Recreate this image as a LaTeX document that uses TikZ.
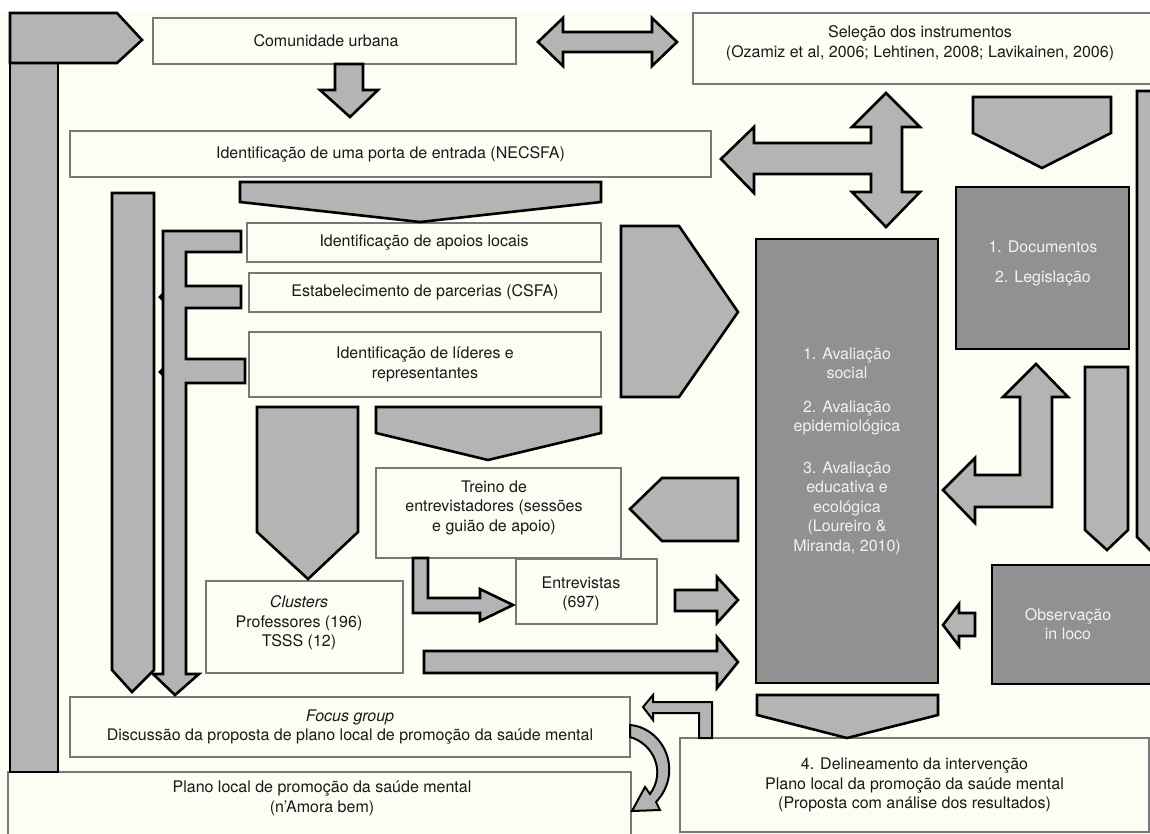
\documentclass[tikz,border=0pt]{standalone}
\usepackage{fontspec}
\setmainfont{TeX Gyre Heros}
\definecolor{cream}{RGB}{253,253,244}
\definecolor{arrgray}{RGB}{180,180,180}
\definecolor{darkbox}{RGB}{145,145,145}
\definecolor{boxline}{RGB}{120,120,120}
\definecolor{textc}{RGB}{25,25,25}
\definecolor{lighttext}{RGB}{242,242,242}
\tikzset{
  arr/.style={fill=arrgray, draw=black, line width=2.6pt, line join=miter},
  thinarr/.style={arr, line width=2pt},
  dbox/.style={fill=darkbox, draw=black, line width=2.6pt, inner sep=0pt},
  wbox/.style={draw=boxline, line width=1.1pt, fill=cream, inner sep=0pt},
  txt/.style={align=center, font=\fontsize{16}{19.5}\selectfont, text=textc, inner sep=0pt},
  wtxt/.style={txt, text=lighttext},
}
\begin{document}
\begin{tikzpicture}[x=1pt,y=-1pt]
\useasboundingbox (0,0) rectangle (1150,834);
\clip (0,0) rectangle (1150,834);
\fill[white] (0,0) rectangle (1150,834);
\fill[cream] (0,12) rectangle (1150,834);

% white boxes
\node[wbox, minimum width=363pt, minimum height=46pt] (comunidade) at (334.5,41) {};
\node[txt] (comunidadetxt) at (326,41) {Comunidade urbana};
\node[wbox, minimum width=463pt, minimum height=71pt] (selecao) at (924.5,48.5) {};
\node[txt] (selecaotxt) at (920,43) {Seleção dos instrumentos\\(Ozamiz et al, 2006; Lehtinen, 2008; Lavikainen, 2006)};
\node[wbox, txt, minimum width=641pt, minimum height=46pt] (necsfa) at (390.5,154) {Identificação de uma porta de entrada (NECSFA)};
\node[wbox, txt, minimum width=354pt, minimum height=39pt] (apoios) at (424,242.5) {Identificação de apoios locais};
\node[wbox, txt, minimum width=352pt, minimum height=39pt] (parcerias) at (425,292.5) {Estabelecimento de parcerias (CSFA)};
\node[wbox, txt, minimum width=352pt, minimum height=65pt] (lideres) at (425,364.5) {Identificação de líderes e\\representantes};
\node[wbox, minimum width=245pt, minimum height=90pt] (treino) at (498.5,513) {};
\node[txt] (treinotxt) at (494,507.5) {Treino de\\entrevistadores (sessões\\e guião de apoio)};
\node[wbox, minimum width=141pt, minimum height=65pt] (entrevistas) at (586.5,591.5) {};
\node[txt] (entrevistastxt) at (581,594) {Entrevistas\\(697)};
\node[wbox, minimum width=197pt, minimum height=92pt] (clusters) at (304.5,627) {};
\node[txt] (clusterstxt) at (299,623) {\textit{Clusters}\\Professores (196)\\TSSS (12)};
\node[wbox, txt, minimum width=560pt, minimum height=60pt] (focus) at (350,727) {\textit{Focus group}\\Discussão da proposta de plano local de promoção da saúde mental};
\node[wbox, minimum width=623pt, minimum height=74pt] (plano) at (319.5,809) {};
\node[txt] (planotxt) at (322,798.5) {Plano local de promoção da saúde mental\\(n’Amora bem)};
\node[wbox, txt, minimum width=469pt, minimum height=94pt] (delin) at (914.5,785) {4. Delineamento da intervenção\\Plano local da promoção da saúde mental\\(Proposta com análise dos resultados)};

% dark boxes
\node[dbox, minimum width=173pt, minimum height=162pt] (docs) at (1042.5,268) {};
\node[wtxt] (docstxt) at (1043,264) {1. Documentos\\[10.5pt]2. Legislação};
\node[dbox, minimum width=182pt, minimum height=444pt] (aval) at (847,461) {};
\node[wtxt] (avaltxt) at (847,451) {1. Avaliação\\social\\[14pt]2. Avaliação\\epidemiológica\\[22pt]3. Avaliação\\educativa e\\ecológica\\(Loureiro \&\\Miranda, 2010)};
\node[dbox, minimum width=168pt, minimum height=119pt] (obs) at (1076,624.5) {};
\node[wtxt] (obstxt) at (1068,624) {Observação\\in loco};

% block arrows
\draw[arr] (10,63) rectangle (58,772);
\draw[arr] (10,13) -- (117,13) -- (142,40) -- (117,63) -- (10,63) -- cycle;
\draw[arr] (335,64) -- (363,64) -- (363,90) -- (378,90) -- (350,117) -- (320,90) -- (335,90) -- cycle;
\draw[arr] (538,42) -- (563,18) -- (563,32) -- (652,32) -- (652,18) -- (677,42) -- (652,66) -- (652,52) -- (563,52) -- (563,66) -- cycle;
\draw[arr] (886,93) -- (920,127) -- (902,127) -- (902,192) -- (920,192) -- (886,227) -- (852,192) -- (871,192) -- (871,174) -- (754,174) -- (754,193) -- (721,159) -- (754,127) -- (754,143) -- (871,143) -- (871,127) -- (852,127) -- cycle;
\draw[arr] (973,97) -- (1111,97) -- (1111,133) -- (1042,168) -- (973,133) -- cycle;
\draw[arr] (1137,91) -- (1185,91) -- (1185,537) -- (1161,561) -- (1137,537) -- cycle;
\draw[arr] (1085,367) -- (1128,367) -- (1128,530) -- (1107,550) -- (1085,530) -- cycle;
\draw[arr] (943,490) -- (975,458) -- (975,475) -- (1020,475) -- (1020,397) -- (1003,397) -- (1036,364) -- (1068,397) -- (1052,397) -- (1052,507) -- (975,507) -- (975,523) -- cycle;
\draw[arr] (240,182) -- (601,182) -- (601,202) -- (420,222) -- (240,202) -- cycle;
\draw[arr] (112,193) -- (154,193) -- (154,670) -- (132,692) -- (112,670) -- cycle;
\draw[arr] (163,231) -- (241,231) -- (241,252) -- (186,252) -- (186,286) -- (241,286) -- (241,308) -- (186,308) -- (186,359) -- (245,359) -- (245,383) -- (186,383) -- (186,674) -- (199,674) -- (175,695) -- (153,674) -- (163,674) -- cycle;
\fill[black] (163,292) -- (158,297) -- (163,302) -- cycle;
\fill[black] (163,367) -- (158,372) -- (163,377) -- cycle;
\draw[arr] (621,226) -- (679,226) -- (738,312) -- (679,397) -- (621,397) -- cycle;
\draw[arr] (257,407) -- (358,407) -- (358,532) -- (308,579) -- (257,532) -- cycle;
\draw[arr] (376,407) -- (601,407) -- (601,433) -- (488,460) -- (376,433) -- cycle;
\draw[arr] (630,509) -- (662,478) -- (738,478) -- (738,541) -- (662,541) -- cycle;
\draw[arr] (413,558) -- (428,558) -- (428,598) -- (480,598) -- (480,589) -- (513,605) -- (480,621) -- (480,613) -- (413,613) -- cycle;
\draw[arr] (675,590) -- (717,590) -- (717,577) -- (738,600) -- (717,623) -- (717,611) -- (675,611) -- cycle;
\draw[arr] (424,651) -- (717,651) -- (717,637) -- (738,662) -- (717,688) -- (717,673) -- (424,673) -- cycle;
\draw[arr] (943,625) -- (959,604) -- (959,613) -- (975,613) -- (975,636) -- (959,636) -- (959,646) -- cycle;
\draw[arr] (757,695) -- (938,695) -- (938,715) -- (847,738) -- (757,715) -- cycle;
\draw[thinarr] (643,707) -- (653,695) -- (653,702) -- (712,702) -- (712,738) -- (699,738) -- (699,713) -- (653,713) -- (653,720) -- cycle;
\draw[thinarr] (630,725) .. controls (664,728) and (684,772) .. (656,802) -- (660,810) -- (632,811) -- (645,787) -- (650,794) .. controls (666,772) and (654,744) .. (630,737) -- cycle;
\end{tikzpicture}
\end{document}
